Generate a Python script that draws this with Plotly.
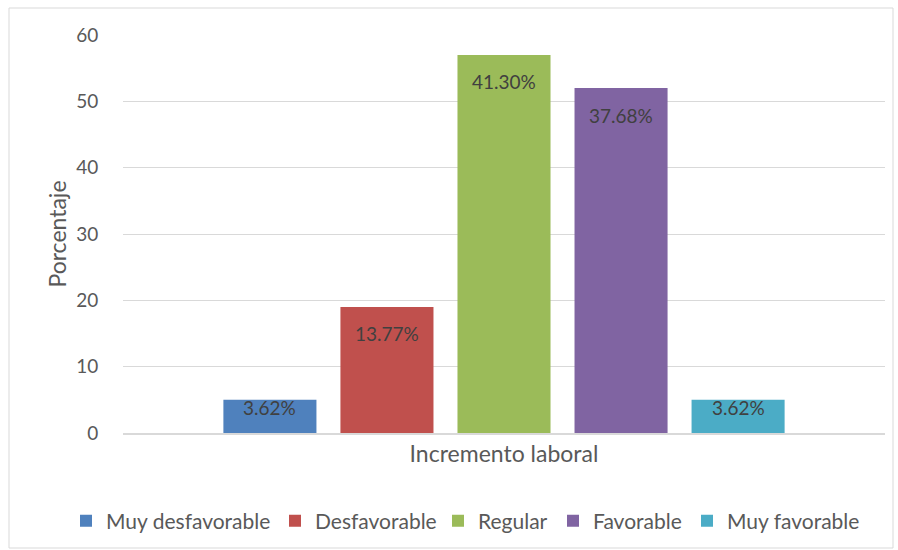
import plotly.graph_objects as go

categoria = ["Incremento laboral"]
niveles = ["Muy desfavorable", "Desfavorable", "Regular", "Favorable", "Muy favorable"]
frecuencias = [5, 19, 57, 52, 5]
colores = ["#4F81BD", "#C0504D", "#9BBB59", "#8064A2", "#4BACC6"]
ticks_y = [0, 10, 20, 30, 40, 50, 60]

total = sum(frecuencias)
FONT = "Lato, 'Open Sans', sans-serif"
GRIS = "#595959"

W, H = 898, 550
ml, mr, mt, mb = 123, 13, 35, 117
pw, ph = W - ml - mr, H - mt - mb
Y_MAX = 60
BARGAP = 0.232
BARGROUPGAP = 0.205

# left edge (px) of each legend entry's text, one legend box per series
LEYENDA_TEXTO_X = [106, 315, 478, 593, 727]
LEYENDA_Y = 521

def px_x(p):
    return (p - ml) / pw

def px_y(p):
    return (H - mb - p) / ph

fig = go.Figure()
nombres_leyenda = ["legend"] + [f"legend{k}" for k in range(2, len(niveles) + 1)]
for nivel, valor, color, ley in zip(niveles, frecuencias, colores, nombres_leyenda):
    fig.add_trace(go.Bar(
        x=categoria,
        y=[valor],
        name=nivel,
        legend=ley,
        marker=dict(color=color, line=dict(width=0)),
        hoverinfo="name+y",
    ))

# percentage labels sitting just inside the top of each bar
n = len(niveles)
ancho_grupo = 1 - BARGAP
ranura = ancho_grupo / n
anotaciones = []
for i, valor in enumerate(frecuencias):
    x_centro = -ancho_grupo / 2 + ranura * (i + 0.5)
    alto_px = valor / Y_MAX * ph
    bajada = min(27, alto_px / 2 - 8.5)
    anotaciones.append(dict(
        x=x_centro, y=valor, xref="x", yref="y",
        text=f"{valor / total * 100:.2f}%",
        showarrow=False,
        yanchor="middle", xanchor="center",
        yshift=-bajada,
        font=dict(family=FONT, size=19, color="#404040"),
    ))

leyendas = {}
for ley, tx in zip(nombres_leyenda, LEYENDA_TEXTO_X):
    leyendas[ley] = dict(
        orientation="h",
        xref="container", yref="container",
        x=(tx - 40) / W, xanchor="left",
        y=(H - LEYENDA_Y) / H, yanchor="middle",
        font=dict(family=FONT, size=21, color=GRIS),
        bgcolor="rgba(0,0,0,0)",
        itemwidth=30,
    )

fig.update_layout(
    width=W, height=H,
    margin=dict(l=ml, r=mr, t=mt, b=mb, autoexpand=False),
    paper_bgcolor="white",
    plot_bgcolor="white",
    barmode="group",
    bargap=BARGAP,
    bargroupgap=BARGROUPGAP,
    font=dict(family=FONT, color=GRIS),
    showlegend=True,
    xaxis=dict(
        showgrid=False,
        showline=True,
        linecolor="#D9D9D9",
        linewidth=1.5,
        tickfont=dict(family=FONT, size=23, color=GRIS),
        ticks="outside",
        ticklen=0,
        tickcolor="rgba(0,0,0,0)",
    ),
    yaxis=dict(
        range=[0, Y_MAX],
        tickvals=ticks_y,
        showgrid=True,
        gridcolor="#D9D9D9",
        gridwidth=1,
        zeroline=False,
        showline=False,
        tickfont=dict(family=FONT, size=19, color=GRIS),
        ticks="outside",
        ticklen=20,
        tickcolor="rgba(0,0,0,0)",
        title=dict(
            text="Porcentaje",
            font=dict(family=FONT, size=23, color=GRIS),
            standoff=3,
        ),
    ),
    annotations=anotaciones,
    shapes=[dict(
        type="rect", xref="paper", yref="paper",
        x0=px_x(9), x1=px_x(893), y0=px_y(548), y1=px_y(8),
        line=dict(color="#D9D9D9", width=1),
        fillcolor="rgba(0,0,0,0)",
        layer="below",
    )],
    **leyendas,
)

fig.write_html("out.html")
